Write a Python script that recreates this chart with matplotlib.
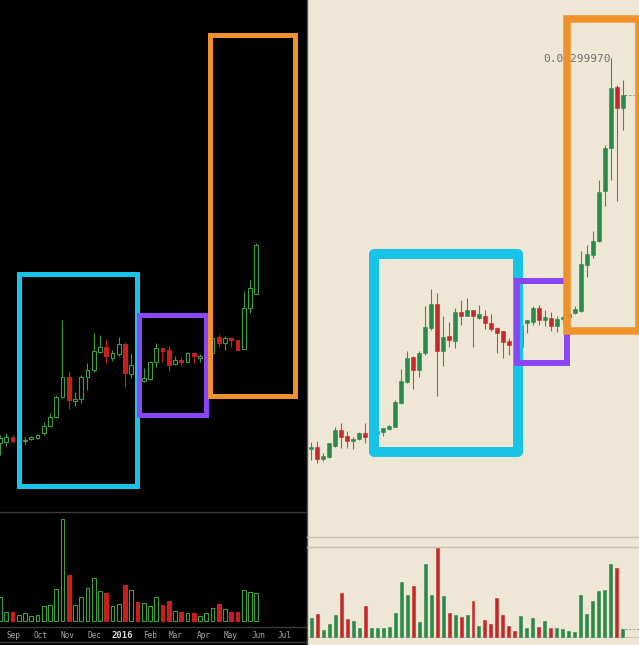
import datetime as dt
import matplotlib
matplotlib.use("Agg")
import matplotlib.pyplot as plt
import matplotlib.dates as mdates
from matplotlib.patches import Rectangle
from matplotlib.lines import Line2D

# ---------------- data (left: weekly, right: daily) ----------------
left_first_week = dt.date(2015, 8, 17)
left_open = [69, 70, 75, 71, 71, 73, 74, 79, 86, 95, 115, 135, 111, 113, 135, 142, 160, 165, 154, 158, 168,
             138, 146, 131, 133, 150, 164, 162, 148, 152, 150, 159, 154, 156, 159, 175, 169, 174, 172, 163, 204, 218]
left_close = [74, 75, 71, 74, 72, 75, 77, 86, 95, 115, 135, 112, 113, 135, 142, 161, 165, 156, 159, 168, 139,
              147, 132, 134, 150, 164, 161, 147, 152, 150, 159, 156, 156, 167, 174, 169, 174, 172, 162, 204, 224, 267]
left_high = [77, 79, 77, 76, 75, 76, 78, 90, 99, 117, 192, 141, 120, 137, 149, 179, 177, 173, 162, 175, 170,
             159, 148, 144, 150, 169, 164, 166, 156, 155, 160, 159, 158, 169, 175, 178, 176, 175, 172, 221, 232, 269]
left_low = [57, 66, 69, 69, 68, 72, 73, 77, 85, 94, 114, 103, 106, 109, 122, 140, 159, 149, 151, 156, 125,
            134, 129, 130, 132, 145, 150, 141, 147, 147, 149, 149, 150, 155, 158, 165, 162, 165, 162, 163, 199, 218]
left_volume = [24, 9, 9, 6, 8, 5, 6, 15, 16, 32, 102, 46, 16, 24, 33, 43, 30, 28, 15, 17, 36,
               31, 19, 18, 15, 24, 16, 20, 10, 9, 8, 8, 5, 8, 13, 17, 12, 9, 9, 31, 29, 28]
month_ticks = [dt.date(2015, 9, 1), dt.date(2015, 10, 1), dt.date(2015, 11, 1), dt.date(2015, 12, 1),
               dt.date(2016, 1, 1), dt.date(2016, 2, 1), dt.date(2016, 3, 1), dt.date(2016, 4, 1),
               dt.date(2016, 5, 1), dt.date(2016, 6, 1), dt.date(2016, 7, 1)]
month_labels = ['Sep', 'Oct', 'Nov', 'Dec', '2016', 'Feb', 'Mar', 'Apr', 'May', 'Jun', 'Jul']

right_open = [88, 90, 78, 80, 91, 107, 101, 96, 98, 104, 100, 103, 105, 108, 110, 134, 155, 180, 167, 184,
              209, 233, 186, 201, 196, 225, 221, 227, 219, 221, 214, 209, 206, 196, 193, 190, 214, 215, 229,
              217, 219, 211, 218, 220, 224, 226, 272, 282, 296, 346, 389, 450, 429]
right_close = [90, 78, 81, 94, 107, 100, 96, 98, 104, 100, 104, 106, 109, 111, 135, 156, 179, 167, 184, 210,
               233, 186, 200, 197, 225, 221, 227, 221, 223, 214, 208, 204, 195, 192, 188, 212, 217, 229, 217,
               220, 211, 218, 220, 223, 228, 273, 283, 296, 345, 389, 449, 429, 442]
right_high = [95, 96, 84, 94, 110, 114, 106, 100, 105, 114, 106, 108, 109, 112, 137, 168, 186, 181, 186, 231,
              248, 244, 221, 215, 229, 237, 239, 227, 232, 227, 223, 210, 206, 199, 196, 214, 217, 231, 232,
              227, 225, 221, 222, 226, 231, 286, 292, 306, 357, 392, 479, 452, 457]
right_low = [77, 74, 76, 79, 90, 89, 89, 88, 97, 94, 98, 101, 101, 107, 110, 133, 154, 148, 160, 182,
             207, 141, 171, 190, 189, 212, 221, 190, 218, 208, 206, 184, 179, 182, 182, 185, 204, 212, 212,
             211, 206, 205, 214, 218, 223, 225, 260, 279, 295, 331, 357, 336, 407]
right_volume = [58, 70, 20, 40, 67, 131, 55, 47, 28, 92, 28, 28, 28, 31, 73, 166, 127, 154, 46, 218,
                127, 268, 124, 73, 67, 61, 67, 107, 34, 52, 40, 118, 67, 34, 19, 64, 28, 58, 31, 49,
                28, 28, 25, 19, 16, 127, 70, 109, 139, 142, 220, 208, 23]
right_high_label = "0.00299970"

# ---------------- figure ----------------
W, H = 639, 645
fig = plt.figure(figsize=(W / 100, H / 100), dpi=100, facecolor='black')


def box(x0, y0, x1, y1):
    return [x0 / W, 1 - y1 / H, (x1 - x0) / W, (y1 - y0) / H]


def hline(x0, x1, y, color, lw=1.0):
    fig.add_artist(Line2D([x0 / W, x1 / W], [1 - y / H, 1 - y / H], transform=fig.transFigure,
                          color=color, lw=lw, zorder=1))


BEIGE = '#EFE7D5'
fig.add_artist(Rectangle((307 / W, 0), 1 - 307 / W, 1, transform=fig.transFigure,
                         facecolor=BEIGE, edgecolor='none', zorder=-10))

# ---------------- left chart ----------------
LG, LR = '#3f9e3f', '#c81e1e'
n_left = len(left_open)
left_x = mdates.date2num([left_first_week + dt.timedelta(days=7 * i) for i in range(n_left)])
x_start = mdates.date2num(left_first_week)
xlim_left = (x_start, x_start + 306 / 6.25 * 7)

axLp = fig.add_axes(box(0, 0, 306, 512))
axLv = fig.add_axes(box(0, 512, 306, 627))
for ax in (axLp, axLv):
    ax.set_facecolor('black')
    for s in ax.spines.values():
        s.set_visible(False)
    ax.set_yticks([])
    ax.set_xlim(*xlim_left)
axLp.set_xticks([])
axLp.set_ylim(0, 512)
axLv.set_ylim(-6, 109)

for xi, o, h, l, c in zip(left_x, left_open, left_high, left_low, left_close):
    up = c >= o
    col = LG if up else LR
    axLp.vlines(xi, l, h, color=col, lw=0.8, zorder=2)
    lo, hi = min(o, c), max(o, c)
    axLp.bar(xi, max(hi - lo, 0.8), bottom=lo, width=4.3,
             facecolor='black' if up else LR, edgecolor=col, linewidth=0.8, zorder=3)

for xi, v, o, c in zip(left_x, left_volume, left_open, left_close):
    up = c >= o
    axLv.bar(xi, v, width=4.3, facecolor='none' if up else LR,
             edgecolor=LG if up else LR, linewidth=0.8)

axLv.set_xticks(mdates.date2num(month_ticks))
axLv.set_xticklabels(month_labels, fontfamily='DejaVu Sans Mono', fontsize=5.6, color='#a8a8a8')
axLv.tick_params(axis='x', length=0, pad=2.8)
lab2016 = axLv.get_xticklabels()[4]
lab2016.set_color('#dddddd')
lab2016.set_fontsize(6.4)
lab2016.set_fontweight('bold')

hline(0, 306, 512, '#3a3a3a')
hline(0, 306, 627, '#3a3a3a')
hline(0, 306, 642, '#3a3a3a')
fig.add_artist(Line2D([306.5 / W, 306.5 / W], [0, 1], transform=fig.transFigure, color='#555555', lw=1, zorder=1))

# ---------------- right chart ----------------
RG, RR = '#2a8a4a', '#c62828'
RGW, RRW = '#3d8f55', '#d04545'
n_right = len(right_open)
rx = list(range(n_right))
axRp = fig.add_axes(box(307, 0, 639, 537))
axRv = fig.add_axes(box(307, 547, 639, 645))
for ax in (axRp, axRv):
    ax.set_facecolor('none')
    for s in ax.spines.values():
        s.set_visible(False)
    ax.set_xticks([])
    ax.set_yticks([])
    ax.set_xlim(-0.667, 54.667)
axRp.set_ylim(0, 537)
axRv.set_ylim(-24, 270)

hline(307, 639, 537, '#c8c1b2')
hline(307, 639, 547, '#c8c1b2')
axRv.axhline(0, color='#cfc8b8', lw=0.8, zorder=0)

for xi, o, h, l, c in zip(rx, right_open, right_high, right_low, right_close):
    up = c >= o
    axRp.vlines(xi, l, h, color=RGW if up else RRW, lw=0.8, zorder=2)
    lo, hi = min(o, c), max(o, c)
    axRp.bar(xi, max(hi - lo, 1.0), bottom=lo, width=0.52,
             facecolor=RG if up else RR, edgecolor=RG if up else RR, linewidth=0.4, zorder=3)

for xi, v, o, c in zip(rx, right_volume, right_open, right_close):
    up = c >= o
    axRv.bar(xi, v, width=0.5, facecolor=RG if up else RR, edgecolor=RG if up else RR, linewidth=0.4)

axRp.hlines(right_close[-1], n_right - 1 + 0.33, n_right - 1 + 1.85, colors='#8a8a8a',
            linestyles=(0, (2, 2)), lw=0.7)
axRv.hlines(right_volume[-1], n_right - 1 + 0.33, 54.667, colors='#8a8a8a',
            linestyles=(0, (2, 2)), lw=0.7)

i_max = right_high.index(max(right_high))
axRp.annotate(right_high_label, xy=(i_max, right_high[i_max]), xytext=(-0.2, -0.8),
              textcoords='offset points', ha='right', va='center',
              fontfamily='DejaVu Sans Mono', fontsize=8, color='#707070')

# ---------------- highlight frames ----------------
CYAN, PURPLE, ORANGE = '#17C4E8', '#8A45F5', '#F0912C'


def frame(x0, y0, x1, y1, color, lw_px, join='miter'):
    fig.add_artist(Rectangle((x0 / W, 1 - y1 / H), (x1 - x0) / W, (y1 - y0) / H,
                             transform=fig.transFigure, fill=False, edgecolor=color,
                             linewidth=lw_px * 0.72, joinstyle=join, zorder=10))


frame(18.5, 273.5, 137, 486, CYAN, 5)
frame(138.5, 314.5, 206, 414.5, PURPLE, 5)
frame(209.5, 35, 294.5, 395.5, ORANGE, 5)

frame(374, 254, 518, 452, CYAN, 10, 'round')
frame(517, 280.5, 567, 363, PURPLE, 6)
frame(566.5, 19, 638.5, 331, ORANGE, 7.5)

fig.savefig('out.png', dpi=100, facecolor=fig.get_facecolor())
